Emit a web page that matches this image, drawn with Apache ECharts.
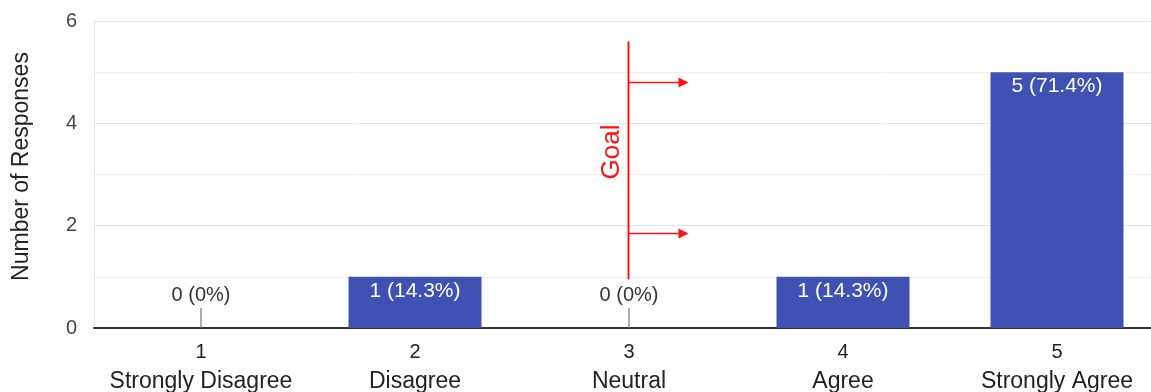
<!DOCTYPE html>
<html>
<head>
<meta charset="utf-8">
<script src="https://cdn.jsdelivr.net/npm/echarts@6/dist/echarts.min.js"></script>
<style>
  html, body { margin: 0; padding: 0; background: #fff; }
  #chart { width: 1151px; height: 392px; }
</style>
</head>
<body>
<div id="chart"></div>
<script>
// Survey responses on a 1–5 agreement scale
const scaleValues = ['1', '2', '3', '4', '5'];
const scaleNames = ['Strongly Disagree', 'Disagree', 'Neutral', 'Agree', 'Strongly Agree'];
const responseCounts = [0, 1, 0, 1, 5];

// Goal annotation, anchored in data space on the "Neutral" category
const goalCategory = '3';
const goalLineRange = [0.95, 5.6];
const goalArrowLevels = [4.8, 1.85];
const goalLabelLevel = 3.44;

const FONT = '"Liberation Sans", Arial, Helvetica, sans-serif';
const BAR_COLOR = '#3f51b3';
const GOAL_COLOR = '#ff1111';

const total = responseCounts.reduce((a, b) => a + b, 0);
const pctText = v => {
  const p = v / total * 100;
  return v + ' (' + (Math.round(p * 10) / 10) + '%)';
};

const chart = echarts.init(document.getElementById('chart'), null, { renderer: 'canvas' });

const barData = responseCounts.map(v => v > 0 ? { value: v } : { value: 0, label: { show: false } });
const zeroData = responseCounts.map(v => v === 0 ? 0 : '-');

chart.setOption({
  animation: false,
  backgroundColor: '#fff',
  grid: { left: 94, right: -13, top: 21, bottom: 64, containLabel: false, outerBoundsMode: 'none' },
  xAxis: {
    type: 'category',
    data: scaleValues,
    boundaryGap: true,
    axisLine: { show: true, lineStyle: { color: '#333', width: 2 } },
    axisTick: { show: false },
    splitLine: { show: false },
    axisLabel: {
      interval: 0,
      margin: 10,
      hideOverlap: false,
      formatter: (v, i) => '{n|' + v + '}\n{t|' + scaleNames[i] + '}',
      rich: {
        n: { fontFamily: FONT, fontSize: 20, color: '#222', lineHeight: 29, align: 'center' },
        t: { fontFamily: FONT, fontSize: 23, color: '#222', lineHeight: 29, align: 'center' }
      }
    }
  },
  yAxis: {
    type: 'value',
    min: 0,
    max: 6,
    interval: 2,
    name: 'Number of Responses',
    nameLocation: 'middle',
    nameRotate: 90,
    nameGap: 61,
    nameTextStyle: { fontFamily: FONT, fontSize: 23, color: '#222', padding: [0, 0, 0, 16] },
    axisLine: { show: true, lineStyle: { color: '#e4e4e4', width: 1 } },
    axisTick: { show: false },
    axisLabel: { fontFamily: FONT, fontSize: 20, color: '#444', margin: 17 },
    splitLine: { show: true, lineStyle: { color: '#e4e4e4', width: 1 } },
    minorTick: { show: false, splitNumber: 2 },
    minorSplitLine: { show: true, lineStyle: { color: '#f0f0f0', width: 1 } }
  },
  series: [
    {
      type: 'bar',
      data: barData,
      barWidth: 133,
      itemStyle: { color: BAR_COLOR },
      label: {
        show: true,
        position: 'insideTop',
        distance: 4,
        fontFamily: FONT,
        fontSize: 21,
        color: '#fff',
        formatter: p => pctText(p.value)
      },
      z: 2
    },
    {
      type: 'scatter',
      data: zeroData,
      symbol: 'rect',
      symbolSize: [1.2, 20],
      symbolOffset: [0, -10],
      itemStyle: { color: '#777', opacity: 1 },
      label: {
        show: true,
        position: 'top',
        distance: 3,
        fontFamily: FONT,
        fontSize: 20,
        color: '#333',
        formatter: p => pctText(p.value)
      },
      z: 3
    }
  ]
});

// Goal marker: vertical line with right-pointing arrows and a rotated caption
function drawGoal() {
  const toPx = v => chart.convertToPixel({ xAxisIndex: 0, yAxisIndex: 0 }, [goalCategory, v]);
  const top = toPx(goalLineRange[1]);
  const bottom = toPx(goalLineRange[0]);
  const x = Math.round(top[0]) - 0.5;
  const arrowLen = 60;
  const elements = [{
    type: 'line',
    shape: { x1: x, y1: top[1], x2: x, y2: bottom[1] },
    style: { stroke: GOAL_COLOR, lineWidth: 2 },
    z: 10
  }];
  goalArrowLevels.forEach(lv => {
    const y = Math.round(toPx(lv)[1]) + 0.5;
    elements.push({
      type: 'line',
      shape: { x1: x, y1: y, x2: x + arrowLen - 8, y2: y },
      style: { stroke: GOAL_COLOR, lineWidth: 1.5 },
      z: 10
    });
    elements.push({
      type: 'polygon',
      shape: { points: [[x + arrowLen - 10, y - 5], [x + arrowLen, y], [x + arrowLen - 10, y + 5]] },
      style: { fill: GOAL_COLOR },
      z: 10
    });
  });
  const lbl = toPx(goalLabelLevel);
  elements.push({
    type: 'text',
    x: x - 17,
    y: lbl[1],
    rotation: Math.PI / 2,
    style: {
      text: 'Goal',
      fontFamily: FONT,
      fontSize: 26,
      fill: GOAL_COLOR,
      align: 'center',
      verticalAlign: 'middle'
    },
    z: 10
  });
  chart.setOption({ graphic: elements });
}
drawGoal();
</script>
</body>
</html>
